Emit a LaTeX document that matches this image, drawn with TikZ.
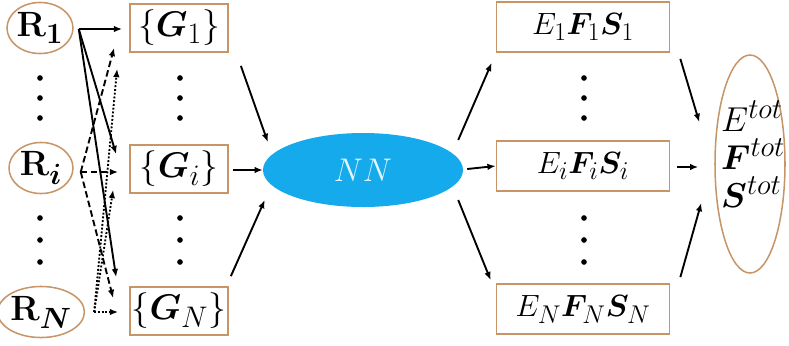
\documentclass[tikz,border=0pt]{standalone}
\usepackage{amsmath}
\usepackage{bm}
\usetikzlibrary{shapes.geometric,arrows.meta,calc}
\definecolor{tan}{RGB}{198,150,104}
\definecolor{nnblue}{RGB}{20,170,235}
\definecolor{nntext}{RGB}{225,245,255}
\newcommand{\sbx}[2]{\scalebox{#1}{#2}}
\begin{document}
\begin{tikzpicture}[x=0.85pt,y=-0.85pt,
  font=\Huge,
  rnode/.style={ellipse,draw=tan,line width=1.3pt,minimum width=54.4pt,minimum height=43.4pt,inner sep=0pt},
  gbox/.style={rectangle,draw=tan,line width=1.5pt,minimum width=83.3pt,minimum height=40.8pt,inner sep=0pt},
  ebox/.style={rectangle,draw=tan,line width=1.5pt,minimum width=147pt,minimum height=42.5pt,inner sep=0pt},
  nnode/.style={ellipse,fill=nnblue,draw=none,minimum width=170pt,minimum height=62.9pt,inner sep=0pt,text=nntext},
  totnode/.style={ellipse,draw=tan,line width=1.3pt,minimum width=59.5pt,minimum height=185.3pt,inner sep=0pt},
  arr/.style={line width=1.6pt,-{Latex[length=7pt,width=5.6pt]}},
  dsh/.style={arr,dash pattern=on 5.6pt off 2.8pt},
  dtt/.style={arr,dash pattern=on 1.6pt off 1.6pt},
  dotmark/.style={circle,fill=black,inner sep=0pt,minimum size=4.8pt}
]
\useasboundingbox (0,0) rectangle (789,345);

% R nodes
\node[rnode] (R1) at (40,28) {\sbx{1.2}{$\mathbf{R}_{\mathbf{1}}$}};
\node[rnode] (Ri) at (41,168) {\sbx{1.2}{$\mathbf{R}_{\bm{i}}$}};
\node[rnode] (RN) at (41,312) {\sbx{1.2}{$\mathbf{R}_{\bm{N}}$}};

% G boxes
\node[gbox] (G1) at (179,28) {\sbx{1.22}{$\{\bm{G}_1\}$}};
\node[gbox] (Gi) at (179,169) {\sbx{1.22}{$\{\bm{G}_i\}$}};
\node[gbox] (GN) at (179,311) {\sbx{1.22}{$\{\bm{G}_N\}$}};

% NN
\node[nnode] (NN) at (363,170) {\sbx{1.12}{$NN$}};

% E boxes
\node[ebox] (E1) at (583,27) {\sbx{1.05}{$E_1\bm{F}_1\bm{S}_1$}};
\node[ebox] (Ei) at (583,166) {\sbx{1.05}{$E_i\bm{F}_i\bm{S}_i$}};
\node[ebox] (EN) at (583,309) {\sbx{1.05}{$E_N\bm{F}_N\bm{S}_N$}};

% total
\node[totnode] (T) at (750,164) {};
\node[anchor=base west,inner sep=0pt] (Et) at (721,131) {\sbx{1.18}{$E^{tot}$}};
\node[anchor=base west,inner sep=0pt] (Ft) at (721,169) {\sbx{1.18}{$\bm{F}^{tot}$}};
\node[anchor=base west,inner sep=0pt] (St) at (721,207) {\sbx{1.18}{$\bm{S}^{tot}$}};

% vertical dots
\foreach \x/\n in {40/r,180/g,584/e}{
  \node[dotmark] (\n a) at (\x,78) {};
  \node[dotmark] (\n b) at (\x,98) {};
  \node[dotmark] (\n c) at (\x,118) {};
  \node[dotmark] (\n d) at (\x,218) {};
  \node[dotmark] (\n e) at (\x,240) {};
  \node[dotmark] (\n f) at (\x,262) {};
}

% start coordinates
\coordinate (s1) at ($(R1.east)+(5,1)$);
\coordinate (si) at ($(Ri.east)+(7,4)$);
\coordinate (sN) at ($(RN.east)+(9,0)$);

% R1 solid
\draw[arr] (s1) -- ($(G1.west)+(-7,1)$);
\draw[arr] (s1) -- ($(Gi.north west)+(-13,10)$);
\draw[arr] (s1) -- ($(GN.north west)+(-13,-9)$);
% Ri dashed
\draw[dsh] (si) -- ($(Gi.west)+(-11,3)$);
\draw[dsh] (si) -- ($(G1.south west)+(-15,-5)$);
\draw[dsh] (si) -- ($(GN.west)+(-16,-13)$);
% RN dotted
\draw[dtt] (sN) -- ($(GN.west)+(-11,1)$);
\draw[dtt] (sN) -- ($(Gi.south west)+(-16,-4)$);
\draw[dtt] (sN) -- ($(G1.south west)+(-12,16)$);

% G -> NN
\draw[arr] ($(G1.south east)+(12,13)$) -- ($(NN.west)+(5,-28)$);
\draw[arr] ($(Gi.east)+(4,1)$) -- (NN.west);
\draw[arr] ($(GN.north east)+(2,-10)$) -- ($(NN.west)+(2,30)$);

% NN -> E
\draw[arr] ($(NN.east)+(-5,-30)$) -- ($(E1.south west)+(-4,10)$);
\draw[arr] ($(NN.east)+(4,-1)$) -- (Ei.west);
\draw[arr] ($(NN.east)+(-5,30)$) -- ($(EN.north west)+(-5,-3)$);

% E -> total
\draw[arr] ($(E1.south east)+(10,6)$) -- ($(T.west)+(-15,-42)$);
\draw[arr] ($(Ei.east)+(7,1)$) -- ($(T.west)+(-16,3)$);
\draw[arr] ($(EN.north east)+(10,-6)$) -- ($(T.west)+(-13,39)$);
\end{tikzpicture}
\end{document}
